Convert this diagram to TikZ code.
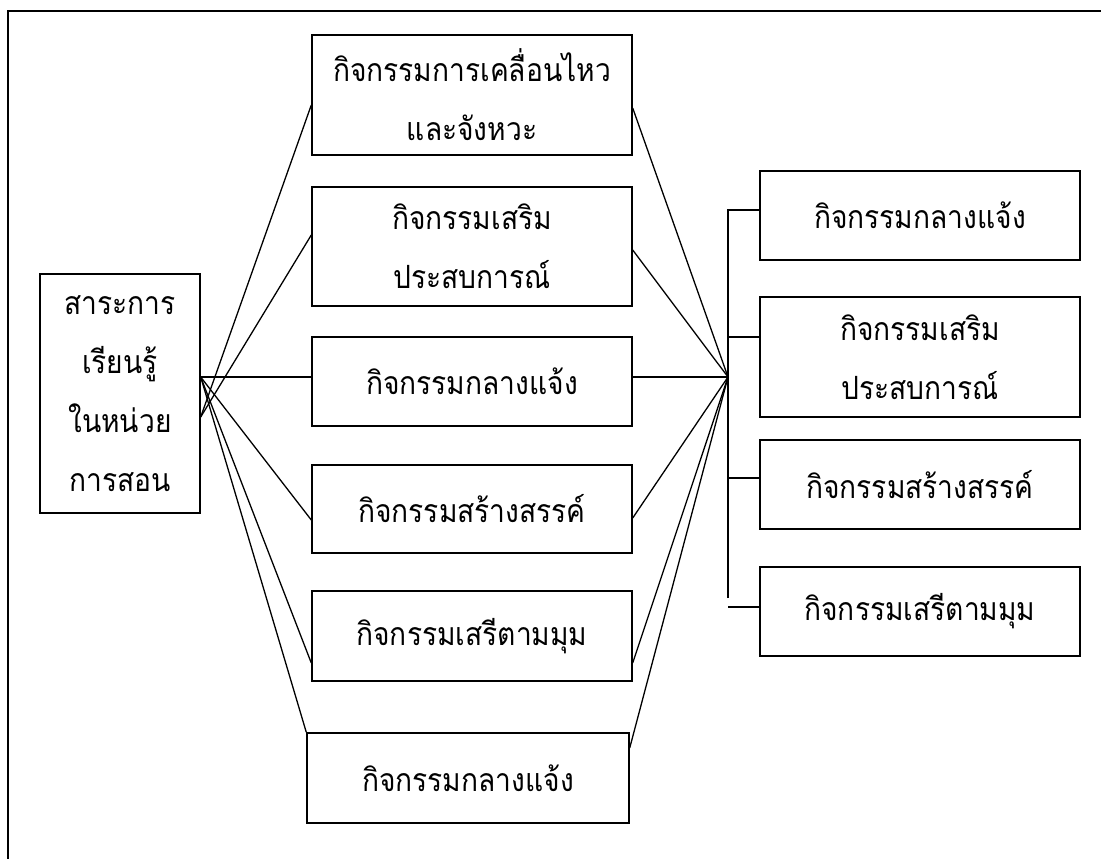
\documentclass[tikz,border=0pt]{standalone}
\usepackage{fontspec}
\newfontfamily\thaifont[Script=Thai,FakeStretch=0.88]{Loma}
\usetikzlibrary{calc}
\tikzset{
  box/.style={draw, line width=1.4pt, inner sep=0pt, align=center,
    font=\thaifont\fontsize{32}{59}\selectfont},
  conn/.style={line width=1.3pt},
}
\begin{document}
\begin{tikzpicture}[x=1pt,y=-1pt]
\useasboundingbox (0,0) rectangle (1101,859);
\draw[line width=1.8pt] (8,859) -- (8,11) -- (1101,11);
% source
\node[box, minimum width=160pt, minimum height=239pt] (src) at (120,393.5) {สาระการ\\เรียนรู้\\ในหน่วย\\การสอน};
% middle column
\node[box, minimum width=320pt, minimum height=120pt] (b1) at (472,95) {กิจกรรมการเคลื่อนไหว\\และจังหวะ};
\node[box, minimum width=320pt, minimum height=119pt] (b2) at (472,246.5) {กิจกรรมเสริม\\ประสบการณ์};
\node[box, minimum width=320pt, minimum height=89pt] (b3) at (472,381.5) {กิจกรรมกลางแจ้ง};
\node[box, minimum width=320pt, minimum height=88pt] (b4) at (472,509) {กิจกรรมสร้างสรรค์};
\node[box, minimum width=320pt, minimum height=90pt] (b5) at (472,636) {กิจกรรมเสรีตามมุม};
\node[box, minimum width=322pt, minimum height=90pt] (b6) at (468,778) {กิจกรรมกลางแจ้ง};
% right column
\node[box, minimum width=320pt, minimum height=89pt] (r1) at (920,215.5) {กิจกรรมกลางแจ้ง};
\node[box, minimum width=320pt, minimum height=120pt] (r2) at (920,357) {กิจกรรมเสริม\\ประสบการณ์};
\node[box, minimum width=320pt, minimum height=89pt] (r3) at (920,484.5) {กิจกรรมสร้างสรรค์};
\node[box, minimum width=320pt, minimum height=89pt] (r4) at (920,611.5) {กิจกรรมเสรีตามมุม};
% hubs
\coordinate (hubL) at ([yshift=16.5pt]src.east);
\coordinate (hubL2) at ([yshift=-23.5pt]src.east);
\coordinate (hubR) at (728,377);
\coordinate (busT) at (728,210);
\coordinate (busB) at (728,598);
\coordinate (bus2) at (728,337);
\coordinate (bus3) at (728,478);
\coordinate (busD) at (728,607);
% left connectors
\draw[conn] (hubL) -- (hubL -| b3.west);
\draw[conn] (hubL2) -- ([yshift=-10pt]b1.west);
\draw[conn] (hubL2) -- ([yshift=11.5pt]b2.west);
\draw[conn] (hubL) -- ([yshift=-11pt]b4.west);
\draw[conn] (hubL) -- ([yshift=-27pt]b5.west);
\draw[conn] (hubL) -- (b6.north west);
% right connectors
\draw[conn] ([yshift=-13pt]b1.east) -- (hubR);
\draw[conn] ([yshift=-3.5pt]b2.east) -- (hubR);
\draw[conn] (hubR -| b3.east) -- (hubR);
\draw[conn] ([yshift=-9pt]b4.east) -- (hubR);
\draw[conn] ([yshift=-27pt]b5.east) -- (hubR);
\draw[conn] ([yshift=30pt]b6.east) -- (hubR);
% bus to right column
\draw[conn] (busB) -- (busT) -- (busT -| r1.west);
\draw[conn] (bus2) -- (bus2 -| r2.west);
\draw[conn] (bus3) -- (bus3 -| r3.west);
\draw[conn] (busD) -- (busD -| r4.west);
\end{tikzpicture}
\end{document}
